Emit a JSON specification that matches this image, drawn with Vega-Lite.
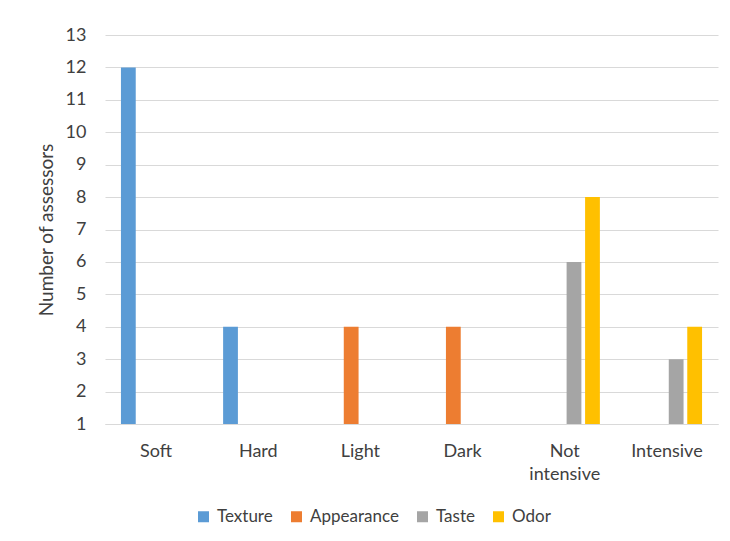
{
  "$schema": "https://vega.github.io/schema/vega-lite/v6.json",
  "autosize": {"type": "none"},
  "width": 613,
  "height": 389,
  "padding": {"left": 105, "top": 35, "right": 12, "bottom": 117},
  "background": "white",
  "config": {
    "view": {"stroke": null},
    "font": "Lato",
    "axis": {"labelFont": "Lato", "titleFont": "Lato", "labelColor": "#404040", "titleColor": "#404040"},
    "legend": {"labelFont": "Lato"}
  },
  "data": {
    "values": [
      {"category": "Soft", "series": "Texture", "value": 12},
      {"category": "Hard", "series": "Texture", "value": 4},
      {"category": "Light", "series": "Appearance", "value": 4},
      {"category": "Dark", "series": "Appearance", "value": 4},
      {"category": "Not intensive", "series": "Taste", "value": 6},
      {"category": "Not intensive", "series": "Odor", "value": 8},
      {"category": "Intensive", "series": "Taste", "value": 3},
      {"category": "Intensive", "series": "Odor", "value": 4}
    ]
  },
  "mark": {"type": "bar"},
  "encoding": {
    "x": {
      "field": "category",
      "type": "nominal",
      "sort": ["Soft", "Hard", "Light", "Dark", "Not intensive", "Intensive"],
      "scale": {"paddingInner": 0.276, "paddingOuter": 0.138},
      "axis": {
        "title": null,
        "labelAngle": 0,
        "ticks": false,
        "domainColor": "#d9d9d9",
        "domainWidth": 1,
        "labelFontSize": 18,
        "labelPadding": 18,
        "labelLineHeight": 23,
        "labelExpr": "datum.value == 'Not intensive' ? ['Not', 'intensive'] : datum.value",
        "grid": false
      }
    },
    "xOffset": {
      "field": "series",
      "type": "nominal",
      "scale": {"domain": ["Texture", "Appearance", "Taste", "Odor"], "paddingInner": 0.2, "paddingOuter": 0.1}
    },
    "y": {
      "field": "value",
      "type": "quantitative",
      "scale": {"domain": [1, 13], "nice": false, "zero": false},
      "axis": {
        "title": "Number of assessors",
        "titleFontSize": 19,
        "titleFontWeight": "normal",
        "titlePadding": 9,
        "values": [1, 2, 3, 4, 5, 6, 7, 8, 9, 10, 11, 12, 13],
        "labelFontSize": 18,
        "labelPadding": 19,
        "ticks": false,
        "domain": false,
        "gridColor": "#d9d9d9",
        "gridWidth": 1
      }
    },
    "y2": {"datum": 1},
    "color": {
      "field": "series",
      "type": "nominal",
      "scale": {"domain": ["Texture", "Appearance", "Taste", "Odor"], "range": ["#5B9BD5", "#ED7D31", "#A5A5A5", "#FFC000"]},
      "legend": {
        "title": null,
        "orient": "none",
        "direction": "horizontal",
        "legendX": 90,
        "legendY": 473,
        "symbolType": "square",
        "symbolSize": 121,
        "symbolStrokeWidth": 0,
        "symbolOpacity": 1,
        "labelFontSize": 17,
        "labelColor": "#404040",
        "labelOffset": 5,
        "columnPadding": 15
      }
    }
  }
}
